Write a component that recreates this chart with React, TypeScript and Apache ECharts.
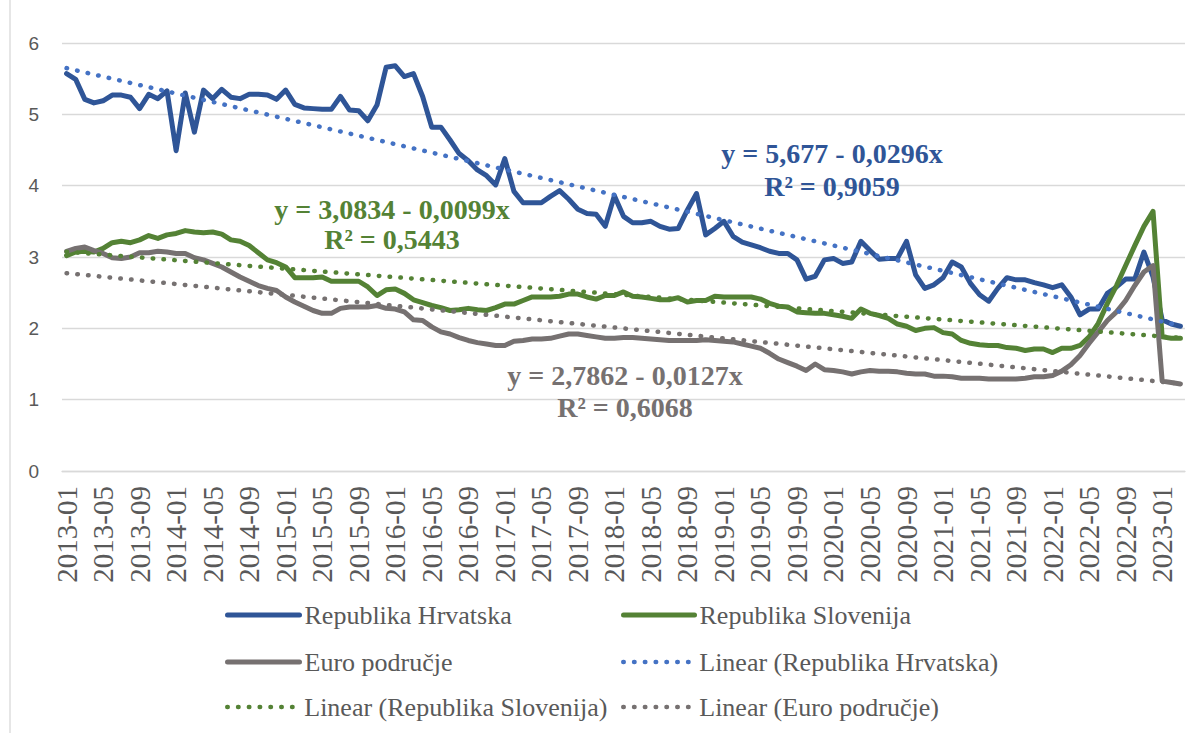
import React, { useEffect, useRef } from "react";
import * as echarts from "echarts";

// Categories: monthly, 2013-01 .. 2023-03
const START_YEAR = 2013;
const MONTH_COUNT = 123;
const categories: string[] = [];
for (let k = 0; k < MONTH_COUNT; k++) {
  const y = START_YEAR + Math.floor(k / 12);
  const m = (k % 12) + 1;
  categories.push(`${y}-${String(m).padStart(2, "0")}`);
}

const seriesNames = ["Republika Hrvatska", "Republika Slovenija", "Euro područje"];
const trendNames = [
  "Linear (Republika Hrvatska)",
  "Linear (Republika Slovenija)",
  "Linear (Euro područje)",
];

const hrvatska = [
  5.57, 5.49, 5.21, 5.16, 5.19, 5.27, 5.27, 5.24, 5.08, 5.28, 5.22, 5.33, 4.49, 5.30, 4.75, 5.34, 5.22, 5.35, 5.24, 5.22,
  5.28, 5.28, 5.27, 5.21, 5.34, 5.14, 5.09, 5.08, 5.07, 5.07, 5.25, 5.06, 5.05, 4.91, 5.13, 5.66, 5.68, 5.53, 5.57, 5.25,
  4.82, 4.82, 4.64, 4.45, 4.35, 4.22, 4.14, 4.01, 4.38, 3.92, 3.76, 3.76, 3.76, 3.85, 3.93, 3.81, 3.67, 3.61, 3.60, 3.43,
  3.86, 3.57, 3.48, 3.48, 3.50, 3.43, 3.39, 3.40, 3.66, 3.89, 3.31, 3.40, 3.50, 3.29, 3.21, 3.17, 3.13, 3.08, 3.05, 3.05,
  2.96, 2.69, 2.73, 2.96, 2.98, 2.91, 2.93, 3.22, 3.09, 2.97, 2.98, 2.98, 3.22, 2.75, 2.56, 2.61, 2.71, 2.93, 2.86, 2.63,
  2.47, 2.38, 2.56, 2.71, 2.68, 2.68, 2.64, 2.61, 2.57, 2.61, 2.44, 2.19, 2.27, 2.27, 2.49, 2.58, 2.69, 2.69, 3.07, 2.72,
  2.12, 2.06, 2.03,
];

const slovenija = [
  3.02, 3.07, 3.08, 3.07, 3.12, 3.20, 3.22, 3.20, 3.24, 3.30, 3.26, 3.31, 3.33, 3.37, 3.35, 3.34, 3.35, 3.32, 3.24, 3.22,
  3.16, 3.06, 2.96, 2.92, 2.86, 2.71, 2.71, 2.71, 2.72, 2.66, 2.66, 2.66, 2.66, 2.58, 2.46, 2.54, 2.55, 2.49, 2.40, 2.36,
  2.32, 2.29, 2.25, 2.26, 2.28, 2.26, 2.25, 2.29, 2.34, 2.34, 2.39, 2.44, 2.44, 2.44, 2.45, 2.48, 2.48, 2.44, 2.41, 2.46,
  2.46, 2.51, 2.45, 2.44, 2.42, 2.40, 2.40, 2.43, 2.37, 2.39, 2.39, 2.45, 2.44, 2.44, 2.44, 2.44, 2.41, 2.35, 2.31, 2.30,
  2.23, 2.22, 2.21, 2.21, 2.19, 2.17, 2.14, 2.27, 2.21, 2.18, 2.14, 2.06, 2.03, 1.97, 2.00, 2.01, 1.94, 1.92, 1.83, 1.79,
  1.77, 1.76, 1.76, 1.73, 1.72, 1.69, 1.71, 1.71, 1.66, 1.72, 1.72, 1.76, 1.88, 2.07, 2.35, 2.60, 2.88, 3.16, 3.43, 3.64,
  1.88, 1.86, 1.86,
];

const euroPodrucje = [
  3.08, 3.12, 3.14, 3.09, 3.05, 2.99, 2.98, 3.00, 3.06, 3.06, 3.08, 3.07, 3.05, 3.05, 2.99, 2.96, 2.91, 2.86, 2.79, 2.72,
  2.66, 2.60, 2.56, 2.53, 2.44, 2.37, 2.31, 2.25, 2.21, 2.21, 2.28, 2.30, 2.30, 2.30, 2.32, 2.28, 2.27, 2.23, 2.12, 2.11,
  2.02, 1.95, 1.92, 1.87, 1.83, 1.80, 1.78, 1.76, 1.76, 1.82, 1.83, 1.85, 1.85, 1.86, 1.89, 1.92, 1.92, 1.90, 1.88, 1.86,
  1.86, 1.87, 1.87, 1.86, 1.85, 1.84, 1.83, 1.83, 1.83, 1.83, 1.84, 1.83, 1.82, 1.81, 1.78, 1.75, 1.72, 1.65, 1.57, 1.52,
  1.47, 1.41, 1.50, 1.42, 1.41, 1.39, 1.36, 1.39, 1.41, 1.40, 1.40, 1.39, 1.37, 1.36, 1.36, 1.33, 1.33, 1.32, 1.30, 1.30,
  1.30, 1.29, 1.29, 1.29, 1.29, 1.30, 1.32, 1.32, 1.34, 1.40, 1.49, 1.62, 1.79, 1.95, 2.11, 2.23, 2.39, 2.60, 2.79, 2.88,
  1.26, 1.24, 1.22,
];

// Trendline equations as printed on the chart: y = a + b*x, x = 1..n
const trendIntercepts = [5.677, 3.0834, 2.7862];
const trendSlopes = [-0.0296, -0.0099, -0.0127];
const trendEquations = ["y = 5,677 - 0,0296x", "y = 3,0834 - 0,0099x", "y = 2,7862 - 0,0127x"];
const trendR2 = ["R² = 0,9059", "R² = 0,5443", "R² = 0,6068"];

const yTicks = { min: 0, max: 6, interval: 1 };

const lineColors = ["#2F5597", "#548235", "#767171"];
const trendColors = ["#4472C4", "#548235", "#767171"];
const DOT: number[] = [0.5, 10.3];
const SERIF = "'Liberation Serif', 'Times New Roman', serif";
const SANS = "'Liberation Sans', Arial, sans-serif";

export default function App() {
  const ref = useRef<HTMLDivElement>(null);

  useEffect(() => {
    if (!ref.current) return;
    const chart = echarts.init(ref.current, undefined, { renderer: "svg" });
    const values = [hrvatska, slovenija, euroPodrucje];

    const trendData = trendIntercepts.map((a, s) =>
      categories.map((_, i) => +(a + trendSlopes[s] * (i + 1)).toFixed(4))
    );

    const mainSeries = values.map((d, s) => ({
      name: seriesNames[s],
      type: "line",
      data: d,
      symbol: "none",
      z: 2 + s,
      lineStyle: { color: lineColors[s], width: 5, cap: "round", join: "round" },
      itemStyle: { color: lineColors[s] },
    }));
    const trendSeries = trendData.map((d, s) => ({
      name: trendNames[s],
      type: "line",
      data: d,
      symbol: "none",
      z: 6 + s,
      lineStyle: { color: trendColors[s], width: 4.5, type: DOT, cap: "round" },
      itemStyle: { color: trendColors[s] },
    }));

    const legendText = {
      fontFamily: SERIF,
      fontSize: 26,
      color: "#595959",
      lineHeight: 26,
    };
    const legendPos = [
      { name: seriesNames[0], left: 225, top: 602, w: 72, dotted: false, c: lineColors[0] },
      { name: seriesNames[1], left: 621, top: 602, w: 71, dotted: false, c: lineColors[1] },
      { name: seriesNames[2], left: 225, top: 649, w: 72, dotted: false, c: lineColors[2] },
      { name: trendNames[0], left: 621, top: 649, w: 71, dotted: true, c: trendColors[0] },
      { name: trendNames[1], left: 225, top: 694, w: 72, dotted: true, c: trendColors[1] },
      { name: trendNames[2], left: 621, top: 694, w: 71, dotted: true, c: trendColors[2] },
    ];
    const legends = legendPos.map((l) => ({
      data: [l.name],
      left: l.left,
      top: l.top,
      padding: 0,
      itemWidth: l.w,
      itemHeight: 14,
      selectedMode: false,
      textStyle: legendText,
      itemStyle: { opacity: 0, color: "transparent", borderWidth: 0 },
      lineStyle: l.dotted
        ? { width: 4.5, type: DOT, cap: "round", color: l.c }
        : { width: 5, type: "solid", cap: "round", color: l.c },
    }));

    const labelStyle = (color: string) => ({
      fill: color,
      fontFamily: SERIF,
      fontWeight: "bold",
      fontSize: 28,
      align: "center",
      verticalAlign: "middle",
    });
    const labelPos = [
      { x: 832, y1: 153, y2: 186 },
      { x: 392, y1: 209, y2: 239 },
      { x: 625, y1: 375, y2: 407 },
    ];
    const graphics: any[] = [
      {
        type: "line",
        shape: { x1: 10, y1: 0, x2: 10, y2: 733 },
        style: { stroke: "#D9D9D9", lineWidth: 1.3 },
        silent: true,
      },
    ];
    labelPos.forEach((p, s) => {
      graphics.push({
        type: "text",
        x: p.x,
        y: p.y1,
        z: 100,
        style: { text: trendEquations[s], ...labelStyle(lineColors[s]) },
      });
      graphics.push({
        type: "text",
        x: p.x,
        y: p.y2,
        z: 100,
        style: { text: trendR2[s], ...labelStyle(lineColors[s]) },
      });
    });

    chart.setOption({
      animation: false,
      backgroundColor: "#ffffff",
      grid: { left: 62, right: 15, top: 43, bottom: 262, containLabel: false },
      xAxis: {
        type: "category",
        data: categories,
        boundaryGap: true,
        axisLine: { show: true, lineStyle: { color: "#D9D9D9", width: 1.3 } },
        axisTick: { show: false },
        axisLabel: {
          interval: 3,
          rotate: 90,
          margin: 15,
          fontFamily: SERIF,
          fontSize: 29,
          color: "#595959",
        },
        splitLine: { show: false },
      },
      yAxis: {
        type: "value",
        min: yTicks.min,
        max: yTicks.max,
        interval: yTicks.interval,
        axisLine: { show: false },
        axisTick: { show: false },
        axisLabel: {
          margin: 23,
          fontFamily: SANS,
          fontSize: 19,
          color: "#595959",
        },
        splitLine: { lineStyle: { color: "#D9D9D9", width: 1.3 } },
      },
      legend: legends,
      graphic: graphics,
      series: [...mainSeries, ...trendSeries],
    });

    return () => chart.dispose();
  }, []);

  return (
    <div
      ref={ref}
      style={{ position: "fixed", left: 0, top: 0, width: 1200, height: 733, background: "#fff" }}
    />
  );
}
